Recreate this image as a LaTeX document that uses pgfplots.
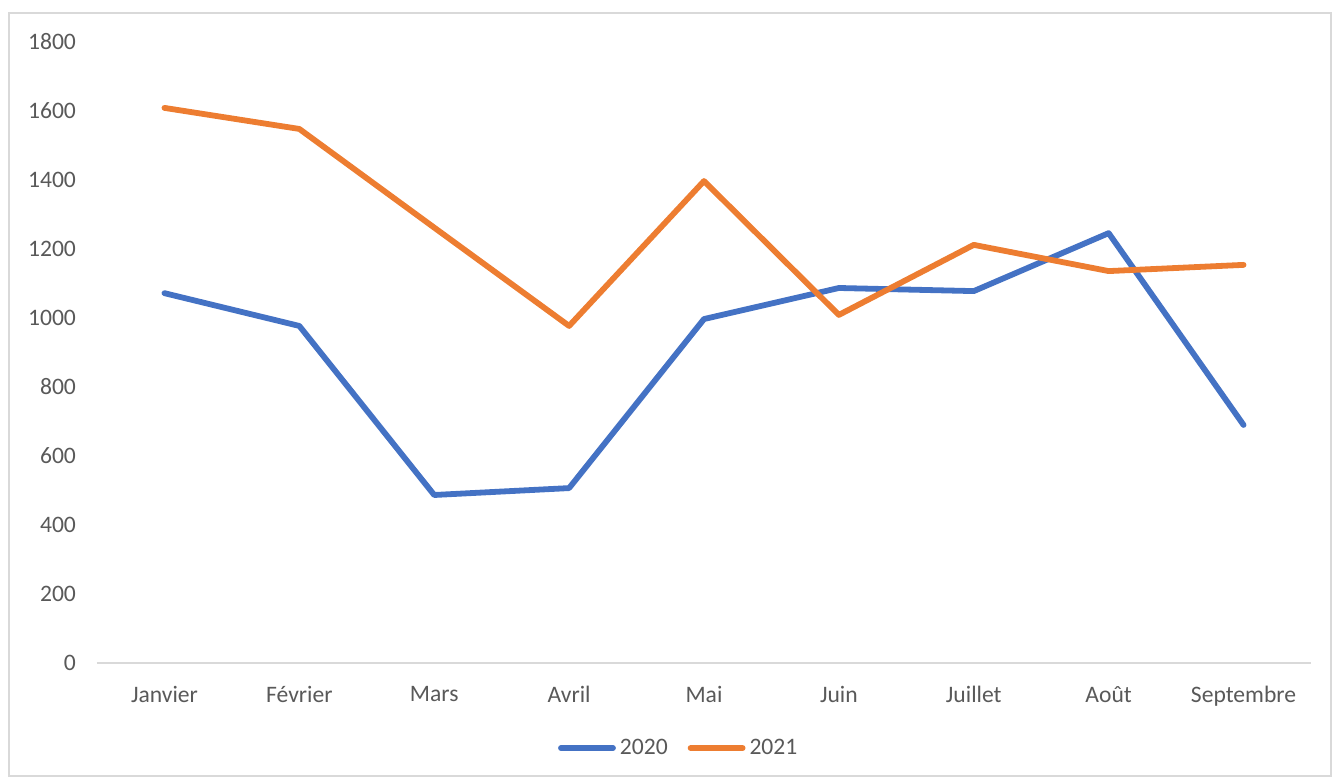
\documentclass[border=0pt]{standalone}
\usepackage{pgfplots}
\pgfplotsset{compat=1.18}
\usepackage{fontspec}
\setmainfont{Carlito}
\definecolor{cblue}{HTML}{4472C4}
\definecolor{corange}{HTML}{ED7D31}
\definecolor{ctext}{HTML}{595959}
\definecolor{cgrid}{HTML}{D9D9D9}
\begin{document}
\begin{tikzpicture}
\useasboundingbox (-48.5pt,-57.5pt) rectangle (618pt,331.5pt);
\draw[cgrid, line width=0.75pt] (-44pt,-56.5pt) rectangle (617pt,325pt);
\begin{axis}[
  at={(0,0)}, anchor=south west,
  scale only axis, width=607pt, height=310.5pt,
  xmin=-0.5, xmax=8.5, ymin=0, ymax=1800,
  xtick={0,...,8},
  xticklabels={Janvier,Février,Mars,Avril,Mai,Juin,Juillet,Août,Septembre},
  ytick={0,200,...,1800},
  axis line style={draw=none},
  axis x line*=bottom, axis y line*=left,
  major tick length=0pt,
  tick label style={font=\fontsize{11.8pt}{14pt}\selectfont, text=ctext},
  /pgf/number format/assume math mode=true,
  /pgf/number format/1000 sep={},
  yticklabel style={xshift=-7pt},
  xticklabel style={yshift=-8pt},
  legend style={at={(0.48,-0.137)}, anchor=center, draw=none, legend columns=2,
    font=\fontsize{11.8pt}{14pt}\selectfont, text=ctext,
    /tikz/every even column/.append style={column sep=8pt}},
  legend image code/.code={\draw[#1, line cap=round] (0pt,0pt) -- (26pt,0pt);},
  clip=false,
]
\draw[cgrid, line width=0.75pt] (axis cs:-0.5,0) -- (axis cs:8.5,0);
\addplot[cblue, line width=2.9pt, line join=round, line cap=round] coordinates {
(0,1072) (1,977) (2,487) (3,507) (4,997) (5,1087) (6,1078) (7,1246) (8,690)};
\addlegendentry{2020}
\addplot[corange, line width=2.9pt, line join=round, line cap=round] coordinates {
(0,1609) (1,1548) (2,1262) (3,977) (4,1397) (5,1009) (6,1212) (7,1136) (8,1154)};
\addlegendentry{2021}
\end{axis}
\end{tikzpicture}
\end{document}
